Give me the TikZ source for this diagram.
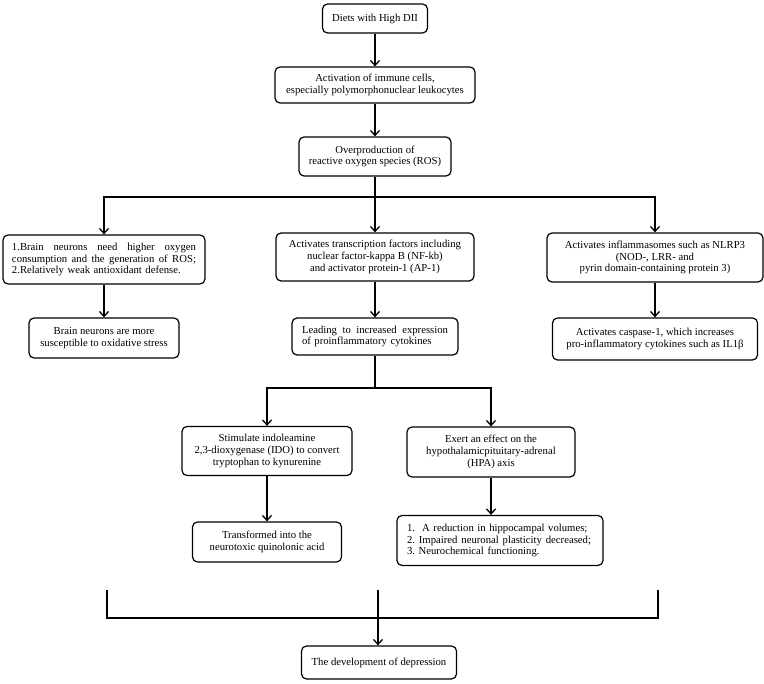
\documentclass[tikz,border=0pt]{standalone}
\usepackage{fontspec}
\setmainfont{Liberation Serif}
\usetikzlibrary{arrows.meta}
\newcommand{\jline}[2]{\leavevmode\hbox to #1{#2}}
\begin{document}
\begin{tikzpicture}[x=1pt,y=-1pt,
  box/.style={draw, line width=1.2pt, rounded corners=5pt, inner sep=2pt, align=center,
    font=\fontsize{10.7}{11.7}\selectfont},
  arr/.style={line width=1.3pt, -{Straight Barb[length=5pt,width=9pt,line width=1.3pt]}},
  ln/.style={line width=1.3pt}]
\useasboundingbox (0,0) rectangle (764,684);
% top chain
\node[box, minimum width=105pt, minimum height=29pt] (n1) at (375,18.5) {Diets with High DII};
\node[box, minimum width=200pt, minimum height=36pt] (n2) at (375,85) {Activation of immune cells,\\especially polymorphonuclear leukocytes};
\node[box, minimum width=152pt, minimum height=39pt] (n3) at (375,156.5) {Overproduction of\\reactive oxygen species (ROS)};
% second row
\node[box, minimum width=202pt, minimum height=49pt, text width=184pt, align=left] (L1) at (104,259.5)
  {\jline{184pt}{1.Brain\hfill neurons\hfill need\hfill higher\hfill oxygen}\\\jline{184pt}{consumption\hfill and\hfill the\hfill generation\hfill of\hfill ROS;}\\2.Relatively weak antioxidant defense.};
\node[box, minimum width=198pt, minimum height=48pt] (M1) at (375,257) {Activates transcription factors including\\nuclear factor-kappa B (NF-kb)\\and activator protein-1 (AP-1)};
\node[box, minimum width=216pt, minimum height=49pt] (R1) at (655,257.5) {Activates inflammasomes such as NLRP3\\(NOD-, LRR- and\\pyrin domain-containing protein 3)};
% third row
\node[box, minimum width=150pt, minimum height=40pt] (L2) at (104,338) {Brain neurons are more\\susceptible to oxidative stress};
\node[box, minimum width=166pt, minimum height=37pt, text width=146pt, align=left] (M2) at (375,336.5)
  {\jline{146pt}{Leading\hfill to\hfill increased\hfill expression}\\of proinflammatory cytokines};
\node[box, minimum width=205pt, minimum height=42pt] (R2) at (655,339) {Activates caspase-1, which increases\\pro-inflammatory cytokines such as IL1β};
% fourth row
\node[box, minimum width=170pt, minimum height=49pt] (IDO) at (267,451) {Stimulate indoleamine\\2,3-dioxygenase (IDO) to convert\\tryptophan to kynurenine};
\node[box, minimum width=168pt, minimum height=50pt] (HPA) at (491,452) {Exert an effect on the\\hypothalamicpituitary-adrenal\\(HPA) axis};
% fifth row
\node[box, minimum width=206pt, minimum height=50pt, text width=186pt, align=left] (LS) at (500,540.5)
  {1.\ \ A reduction in hippocampal volumes;\\\jline{184pt}{2.\hfill Impaired\hfill neuronal\hfill plasticity\hfill decreased;}\\3.\ Neurochemical functioning.};
\node[box, minimum width=149pt, minimum height=40pt] (Q) at (267,542) {Transformed into the\\neurotoxic quinolonic acid};
% final
\node[box, minimum width=155pt, minimum height=33pt] (F) at (379,662.5) {The development of depression};
% connectors
\coordinate (s1) at (375,197);
\coordinate (s2) at (375,388);
\draw[arr] (n1) -- (n2);
\draw[arr] (n2) -- (n3);
\draw[ln] (n3.south) -- (s1);
\draw[arr] (s1) -| (L1.north);
\draw[arr] (s1) -| (R1.north);
\draw[arr] (s1) -- (M1.north);
\draw[arr] (L1) -- (L2);
\draw[arr] (M1) -- (M2);
\draw[arr] (R1) -- (R2);
\draw[ln] (M2.south) -- (s2);
\draw[arr] (s2) -| (IDO.north);
\draw[arr] (s2) -| (HPA.north);
\draw[arr] (IDO) -- (Q);
\draw[arr] (HPA.south) -- (HPA.south |- LS.north);
% bottom collector
\coordinate (bl) at (107,590);
\coordinate (blb) at (107,618);
\coordinate (br) at (658,590);
\coordinate (brb) at (658,618);
\coordinate (bc) at (378,590);
\draw[ln] (bl) -- (blb) -- (brb) -- (br);
\draw[arr] (bc) -- (bc |- F.north);
\end{tikzpicture}
\end{document}
